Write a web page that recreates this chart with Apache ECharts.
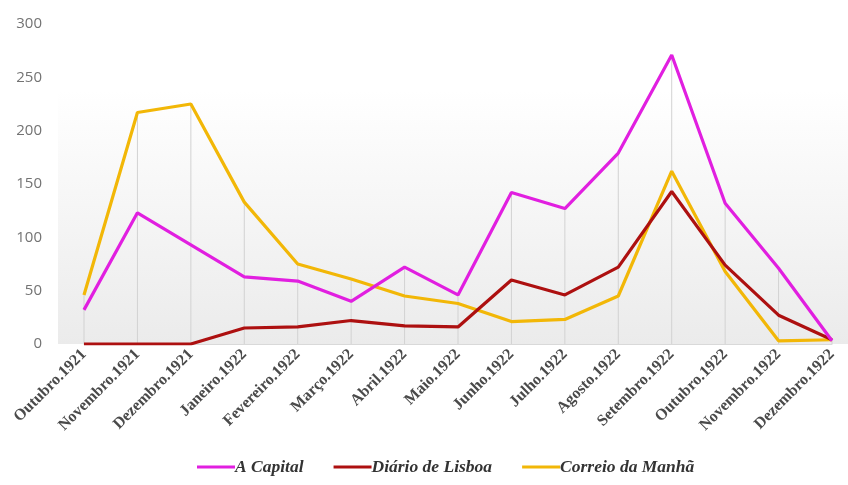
<!DOCTYPE html>
<html>
<head>
<meta charset="utf-8">
<script src="https://cdn.jsdelivr.net/npm/echarts@6/dist/echarts.min.js"></script>
<style>
  html, body { margin: 0; padding: 0; background: #ffffff; }
  #chart { width: 848px; height: 485px; }
</style>
</head>
<body>
<div id="chart"></div>
<script>
// Monthly counts per newspaper, October 1921 – December 1922
const months = [
  'Outubro.1921', 'Novembro.1921', 'Dezembro.1921', 'Janeiro.1922', 'Fevereiro.1922',
  'Março.1922', 'Abril.1922', 'Maio.1922', 'Junho.1922', 'Julho.1922',
  'Agosto.1922', 'Setembro.1922', 'Outubro.1922', 'Novembro.1922', 'Dezembro.1922'
];
const aCapital = [32, 123, 93, 63, 59, 40, 72, 46, 142, 127, 179, 271, 132, 71, 3];
const diarioDeLisboa = [0, 0, 0, 15, 16, 22, 17, 16, 60, 46, 72, 143, 74, 27, 4];
const correioDaManha = [46, 217, 225, 133, 75, 61, 45, 38, 21, 23, 45, 162, 68, 3, 4];
const yTicks = [0, 50, 100, 150, 200, 250, 300];

// Drop lines run from the highest series value down to the axis
const dropLine = months.map((_, i) => Math.max(aCapital[i], diarioDeLisboa[i], correioDaManha[i]));

const chart = echarts.init(document.getElementById('chart'), null, { renderer: 'canvas' });

const lineStyleFor = (color) => ({ color: color, width: 3.2 });

chart.setOption({
  animation: false,
  backgroundColor: '#ffffff',
  graphic: [{
    type: 'rect',
    left: 58,
    top: 90,
    z: -10,
    shape: { width: 790, height: 254 },
    style: {
      fill: new echarts.graphic.LinearGradient(0, 0, 0, 1, [
        { offset: 0, color: '#ffffff' },
        { offset: 1, color: '#ebebeb' }
      ])
    }
  }],
  grid: { left: 84, right: 16, top: 24, bottom: 141, containLabel: false },
  legend: {
    data: ['A Capital', 'Diário de Lisboa', 'Correio da Manhã'],
    top: 453,
    left: 192,
    itemWidth: 38,
    itemHeight: 3,
    itemGap: 30,
    icon: 'rect',
    textStyle: {
      fontFamily: 'Liberation Serif',
      fontStyle: 'italic',
      fontWeight: 'bold',
      fontSize: 17.5,
      color: '#333333',
      padding: [0, 0, 0, -5]
    }
  },
  xAxis: {
    type: 'category',
    data: months,
    boundaryGap: false,
    axisLine: { show: true, lineStyle: { color: '#d9d9d9', width: 1 } },
    axisTick: { show: false },
    splitLine: { show: false },
    axisLabel: {
      rotate: 45,
      interval: 0,
      margin: 8,
      fontFamily: 'Liberation Serif',
      fontWeight: 'bold',
      fontSize: 16,
      color: '#4a4a4a'
    }
  },
  yAxis: {
    type: 'value',
    min: yTicks[0],
    max: yTicks[yTicks.length - 1],
    interval: 50,
    axisLine: { show: false },
    axisTick: { show: false },
    splitLine: { show: false },
    axisLabel: {
      margin: 42,
      fontFamily: 'Open Sans',
      fontSize: 15,
      color: '#737373'
    }
  },
  series: [
    {
      name: 'drop',
      type: 'bar',
      data: dropLine,
      barWidth: 1,
      silent: true,
      z: 1,
      itemStyle: { color: '#d2d2d2' },
      legendHoverLink: false
    },
    {
      name: 'A Capital',
      type: 'line',
      data: aCapital,
      symbol: 'none',
      z: 5,
      color: '#e11fe0',
      lineStyle: lineStyleFor('#e11fe0')
    },
    {
      name: 'Diário de Lisboa',
      type: 'line',
      data: diarioDeLisboa,
      symbol: 'none',
      z: 4,
      color: '#ad1010',
      lineStyle: lineStyleFor('#ad1010')
    },
    {
      name: 'Correio da Manhã',
      type: 'line',
      data: correioDaManha,
      symbol: 'none',
      z: 3,
      color: '#f2b707',
      lineStyle: lineStyleFor('#f2b707')
    }
  ]
});
</script>
</body>
</html>
